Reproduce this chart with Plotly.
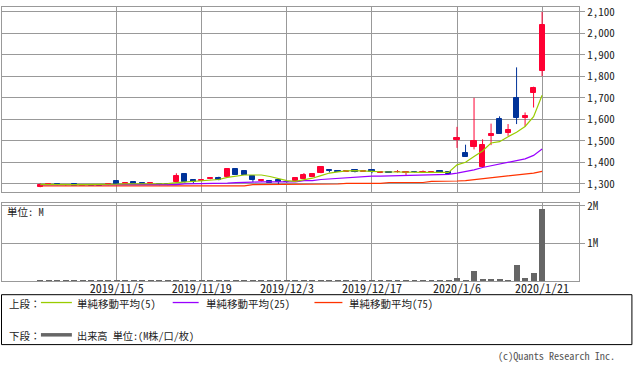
import datetime as dt
import plotly.graph_objects as go

# ---------------- data ----------------
holidays = {"2019-10-22", "2019-11-04", "2019-12-31", "2020-01-01", "2020-01-02", "2020-01-03", "2020-01-13"}
dates = []
d = dt.date(2019, 10, 21)
while d <= dt.date(2020, 1, 21):
    if d.weekday() < 5 and d.isoformat() not in holidays:
        dates.append(f"{d.year}/{d.month}/{d.day}")
    d += dt.timedelta(days=1)

tick_labels = ["2019/11/5", "2019/11/19", "2019/12/3", "2019/12/17", "2020/1/6", "2020/1/21"]

opens = [1284, 1296, 1298, 1293, 1299, 1290, 1294, 1293, 1293, 1312,
         1297, 1307, 1304, 1299, 1300, 1300, 1308, 1344, 1319, 1312,
         1321, 1327, 1330, 1371, 1358, 1335, 1311, 1315, 1318, 1309,
         1312, 1323, 1331, 1349, 1362, 1358, 1357, 1366, 1355, 1364,
         1350, 1356, 1355, 1352, 1357, 1354, 1352, 1361, 1353, 1505,
         1444, 1471, 1380, 1523, 1600, 1537, 1700, 1604, 1722, 1824]
highs = [1302, 1298, 1298, 1295, 1299, 1294, 1294, 1294, 1299, 1312,
         1303, 1307, 1308, 1303, 1300, 1300, 1349, 1344, 1320, 1319,
         1330, 1333, 1372, 1371, 1358, 1335, 1318, 1315, 1318, 1310,
         1326, 1350, 1350, 1376, 1368, 1358, 1358, 1367, 1358, 1368,
         1355, 1356, 1364, 1356, 1357, 1362, 1356, 1361, 1353, 1565,
         1482, 1700, 1507, 1580, 1614, 1578, 1842, 1632, 1752, 2100]
lows = [1284, 1294, 1293, 1290, 1291, 1290, 1290, 1290, 1293, 1295,
        1297, 1300, 1298, 1299, 1293, 1293, 1305, 1305, 1300, 1312,
        1321, 1316, 1328, 1341, 1341, 1308, 1311, 1304, 1299, 1306,
        1312, 1323, 1331, 1349, 1353, 1355, 1357, 1353, 1355, 1349,
        1350, 1352, 1352, 1338, 1353, 1352, 1352, 1352, 1345, 1467,
        1426, 1460, 1380, 1480, 1532, 1523, 1578, 1566, 1655, 1801]
closes = [1293, 1297, 1293, 1293, 1292, 1294, 1290, 1291, 1299, 1296,
          1303, 1300, 1300, 1303, 1293, 1293, 1334, 1308, 1310, 1319,
          1326, 1318, 1371, 1341, 1341, 1318, 1318, 1304, 1308, 1308,
          1326, 1341, 1345, 1376, 1359, 1356, 1358, 1357, 1358, 1353,
          1355, 1352, 1356, 1356, 1353, 1356, 1356, 1352, 1345, 1513,
          1426, 1500, 1482, 1531, 1532, 1549, 1605, 1617, 1746, 2041]

ma5 = [1297, 1296, 1296, 1296, 1296, 1296, 1296, 1296, 1297, 1298,
       1300, 1300, 1300, 1300, 1300, 1301, 1305, 1308, 1312, 1315,
       1318, 1320, 1330, 1335, 1341, 1341, 1341, 1334, 1326, 1315,
       1311, 1318, 1326, 1338, 1350, 1355, 1360, 1361, 1361, 1358,
       1356, 1355, 1353, 1353, 1353, 1353, 1353, 1353, 1353, 1388,
       1400, 1427, 1453, 1490, 1496, 1519, 1540, 1567, 1612, 1712]
ma25 = [1296, 1296, 1296, 1296, 1296, 1296, 1296, 1296, 1296, 1296,
        1296, 1296, 1296, 1296, 1296, 1296, 1296, 1300, 1300, 1300,
        1300, 1300, 1303, 1305, 1305, 1308, 1309, 1309, 1309, 1309,
        1309, 1315, 1315, 1320, 1323, 1323, 1328, 1331, 1334, 1336,
        1336, 1337, 1337, 1338, 1338, 1341, 1343, 1343, 1344, 1350,
        1357, 1365, 1376, 1384, 1392, 1400, 1408, 1416, 1432, 1462]
ma75 = [1290, 1290, 1290, 1290, 1290, 1290, 1290, 1290, 1290, 1290,
        1290, 1290, 1290, 1290, 1290, 1290, 1290, 1290, 1290, 1290,
        1290, 1290, 1290, 1290, 1290, 1296, 1296, 1296, 1296, 1296,
        1296, 1296, 1296, 1299, 1299, 1299, 1302, 1302, 1302, 1302,
        1302, 1306, 1306, 1306, 1306, 1306, 1311, 1311, 1311, 1313,
        1315, 1319, 1323, 1327, 1331, 1335, 1340, 1344, 1350, 1358]
volume_m = [0.02, 0.01, 0.01, 0.01, 0.01, 0.01, 0.01, 0.01, 0.01, 0.02,
            0.01, 0.01, 0.01, 0.01, 0.01, 0.01, 0.03, 0.02, 0.01, 0.01,
            0.01, 0.01, 0.03, 0.02, 0.01, 0.01, 0.01, 0.01, 0.01, 0.01,
            0.01, 0.02, 0.01, 0.02, 0.01, 0.01, 0.01, 0.01, 0.01, 0.01,
            0.01, 0.01, 0.01, 0.01, 0.01, 0.01, 0.01, 0.02, 0.02, 0.10,
            0.045, 0.28, 0.07, 0.07, 0.07, 0.02, 0.44, 0.10, 0.23, 1.92]

price_ticks = list(range(1300, 2101, 100))
vol_ticks = [1, 2]
vol_tick_text = ["1M", "2M"]

# ---------------- styling ----------------
UP = "#FF0033"
DOWN = "#003399"
C_MA5 = "#99CC00"
C_MA25 = "#9900FF"
C_MA75 = "#FF3300"
C_VOL = "#666666"
GRID = "#999999"
FONT = "Noto Sans Mono CJK JP, Noto Sans CJK JP, sans-serif"
TXT = "#222222"

W, H = 633, 373
ML, MR, MT, MB = 1, 54, 1, 92
PW = W - ML - MR
PH = H - MT - MB


def px(x):
    return (x - ML) / PW


def py(y):
    return (H - MB - y) / PH


xs = list(range(len(dates)))
tick_idx = [dates.index(t) for t in tick_labels]

fig = go.Figure()

# wicks
for color, cond in ((UP, lambda o, c: c >= o), (DOWN, lambda o, c: c < o)):
    wx, wy = [], []
    for i in xs:
        if cond(opens[i], closes[i]):
            wx += [i, i, None]
            wy += [lows[i], highs[i], None]
    fig.add_trace(go.Scatter(x=wx, y=wy, mode="lines", line=dict(color=color, width=1),
                             xaxis="x", yaxis="y", showlegend=False, hoverinfo="skip"))

# bodies
bx, bbase, bh, bcol = [], [], [], []
for i in xs:
    o, c = opens[i], closes[i]
    bx.append(i)
    bbase.append(min(o, c))
    bh.append(max(abs(c - o), 0.5))
    bcol.append(UP if c >= o else DOWN)
fig.add_trace(go.Bar(x=bx, y=bh, base=bbase, width=0.6,
                     marker=dict(color=bcol, line=dict(color=bcol, width=1)),
                     xaxis="x", yaxis="y", showlegend=False))

# moving averages
for vals, col in ((ma75, C_MA75), (ma25, C_MA25), (ma5, C_MA5)):
    fig.add_trace(go.Scatter(x=xs, y=vals, mode="lines", line=dict(color=col, width=1.2),
                             xaxis="x", yaxis="y", showlegend=False))

# volume
fig.add_trace(go.Bar(x=xs, y=volume_m, width=0.7, marker=dict(color=C_VOL, line=dict(width=0)),
                     xaxis="x2", yaxis="y2", showlegend=False))

xr = [-4.5, 63.34]
axis_common = dict(showline=True, linecolor=GRID, linewidth=1, mirror=True,
                   showgrid=True, gridcolor=GRID, gridwidth=1, zeroline=False,
                   fixedrange=True)

fig.update_layout(
    width=W, height=H,
    margin=dict(l=ML, r=MR, t=MT, b=MB),
    paper_bgcolor="white", plot_bgcolor="white",
    bargap=0, barmode="overlay",
    font=dict(family=FONT, size=11, color=TXT),
    xaxis=dict(domain=[0, 1], range=xr, anchor="y", tickvals=tick_idx, ticktext=tick_labels,
               showticklabels=False, ticks="", **axis_common),
    yaxis=dict(domain=[py(190), 1], range=[1262, 2123], side="right", tickvals=price_ticks,
               tickformat=",", ticks="outside", ticklen=5, tickcolor=GRID,
               tickfont=dict(family=FONT, size=11, color=TXT), **axis_common),
    xaxis2=dict(domain=[0, 1], range=xr, anchor="y2", tickvals=tick_idx, ticktext=tick_labels,
                ticks="", ticklabelstandoff=-3,
                tickfont=dict(family=FONT, size=12, color=TXT), **axis_common),
    yaxis2=dict(domain=[0, py(201)], range=[0, 2.08], side="right", tickvals=vol_ticks,
                ticktext=vol_tick_text, ticks="outside", ticklen=5, tickcolor=GRID,
                tickfont=dict(family=FONT, size=11, color=TXT), **axis_common),
)

shapes = [
    dict(type="rect", xref="paper", yref="paper", x0=px(0.5), x1=px(632), y0=py(346), y1=py(295),
         line=dict(color="black", width=1), fillcolor="rgba(0,0,0,0)"),
    dict(type="line", xref="paper", yref="paper", x0=px(40), x1=px(71), y0=py(303), y1=py(303),
         line=dict(color=C_MA5, width=1.3)),
    dict(type="line", xref="paper", yref="paper", x0=px(172), x1=px(198), y0=py(303), y1=py(303),
         line=dict(color=C_MA25, width=1.3)),
    dict(type="line", xref="paper", yref="paper", x0=px(314), x1=px(342), y0=py(303), y1=py(303),
         line=dict(color=C_MA75, width=1.3)),
    dict(type="line", xref="paper", yref="paper", x0=px(40), x1=px(71), y0=py(336), y1=py(336),
         line=dict(color=C_VOL, width=3.5)),
]
fig.update_layout(shapes=shapes)


def ann(text, x, y, anchor="left", size=10.5, color=TXT):
    fig.add_annotation(text=text, xref="paper", yref="paper", x=px(x), y=py(y),
                       xanchor=anchor, yanchor="middle", showarrow=False, borderpad=0,
                       font=dict(family=FONT, size=size, color=color))


ann("上段：", 7, 304)
ann("単純移動平均(5)", 75, 304)
ann("単純移動平均(25)", 204, 304)
ann("単純移動平均(75)", 348, 304)
ann("下段：", 7, 337)
ann("出来高 単位:(M株/口/枚)", 75, 337, size=10.2)
ann("単位: M", 5, 210, size=10.5)
ann("(c)Quants Research Inc.", 616, 357, anchor="right", size=10.2, color="#555555")

fig.write_html("out.html", config={"displayModeBar": False},
               post_script="document.body.style.margin='0';document.body.style.padding='0';")
